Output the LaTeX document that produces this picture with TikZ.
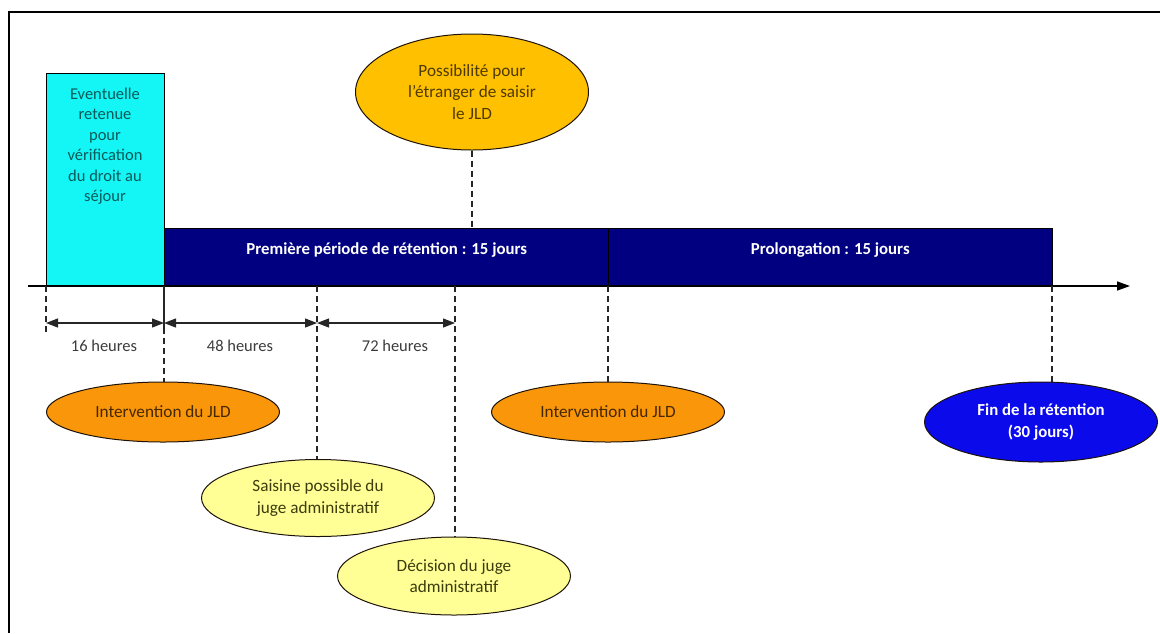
\documentclass[tikz,border=0pt]{standalone}
\usepackage{fontspec}
\setmainfont{Carlito}
\usetikzlibrary{shapes.geometric,arrows.meta}
\definecolor{cyanbox}{RGB}{20,245,245}
\definecolor{navybar}{RGB}{0,0,128}
\definecolor{goldfill}{RGB}{255,192,0}
\definecolor{orangefill}{RGB}{250,150,10}
\definecolor{paleyellow}{RGB}{255,255,150}
\definecolor{bluefill}{RGB}{10,10,235}
\definecolor{tealtext}{RGB}{10,90,90}
\definecolor{browntext}{RGB}{70,40,0}
\definecolor{olivetext}{RGB}{60,60,15}
\definecolor{goldtext}{RGB}{80,58,0}
\definecolor{graytext}{RGB}{60,60,60}
\tikzset{
  txt/.style={font=\fontsize{16.5}{21}\selectfont, align=center, inner sep=0pt},
  evt/.style={ellipse, draw=black!85!brown, line width=1pt, minimum width=233pt, inner sep=0pt, txt, font=\fontsize{17.2}{21.5}\selectfont},
  barbox/.style={draw=black, line width=0.6pt, fill=navybar, inner sep=0pt, minimum height=58pt, anchor=north west},
  bartext/.style={txt, text=white, font=\fontsize{16.8}{21}\selectfont\bfseries},
  guide/.style={dashed, dash pattern=on 6pt off 4pt, line width=1.3pt, black!85},
  dim/.style={line width=1.2pt, black!85, {Triangle[length=12pt,width=9pt]}-{Triangle[length=12pt,width=9pt]}},
  dimlabel/.style={txt, text=graytext},
}
\begin{document}
\begin{tikzpicture}[x=1pt,y=-1pt]
\useasboundingbox (0,0) rectangle (1160,633);
% frame
\draw[line width=1.6pt] (1160,12) -- (9,12) -- (9,633);
% cyan box
\node[draw=black, line width=1pt, fill=cyanbox, minimum width=118pt, minimum height=213pt, inner sep=0pt, anchor=north west] (retenue) at (46,73) {};
\node[txt, text=tealtext, font=\fontsize{16.5}{20.5}\selectfont] (retenuetxt) at (105,146) {Eventuelle\\retenue\\pour\\vérification\\du droit au\\séjour};
% bars
\node[barbox, minimum width=445pt] (bar1) at (164,228) {};
\node[barbox, minimum width=444pt] (bar2) at (608,228) {};
\node[bartext] (bar1txt) at ([yshift=-22pt]bar1.north) {Première période de rétention : 15 jours};
\node[bartext] (bar2txt) at ([yshift=-22pt]bar2.north) {Prolongation : 15 jours};
% axis
\coordinate (axstart) at (28,286);
\coordinate (axend) at (1130,286);
\draw[line width=1.5pt, -{Triangle[length=13pt,width=9pt]}] (axstart) -- (axend);
% points on axis
\coordinate (p0) at (46,286);
\coordinate (p1) at (164,286);
\coordinate (p2) at (317,286);
\coordinate (p3) at (455,286);
\coordinate (p4) at (608,286);
\coordinate (p5) at (1052,286);
\coordinate (p1s) at (164,328);
\coordinate (p0e) at (46,332);
% ellipses
\node[evt, fill=goldfill, minimum height=116pt, text=goldtext] (possib) at (472,92) {Possibilité pour\\l'étranger de saisir\\le JLD};
\node[evt, fill=orangefill, minimum height=60pt, text=browntext] (jld1) at (163,412) {Intervention du JLD};
\node[evt, fill=orangefill, minimum height=60pt, text=browntext] (jld2) at (608,412) {Intervention du JLD};
\node[evt, fill=paleyellow, minimum height=77pt, text=olivetext] (saisine) at (318,498) {Saisine possible du\\juge administratif};
\node[evt, fill=paleyellow, minimum height=78pt, text=olivetext] (decision) at (454,576) {Décision du juge\\administratif};
\node[evt, fill=bluefill, minimum height=80pt, text=white, font=\fontsize{16.8}{22}\selectfont\bfseries] (fin) at (1041,422) {Fin de la rétention\\(30 jours)};
% guides
\draw[guide] (possib.south) -- (possib.south |- bar1.north);
\draw[guide] (p0) -- (p0e);
\draw[line width=1.3pt, black!85] (p1) -- (p1s);
\draw[guide] (p1s) -- (p1s |- jld1.north);
\draw[guide] (p2) -- (p2 |- saisine.north);
\draw[guide] (p3) -- (p3 |- decision.north);
\draw[guide] (p4) -- (p4 |- jld2.north);
\draw[guide] (p5) -- (p5 |- fin.north);
% dimension arrows
\coordinate (d0) at (46,323);
\coordinate (d1) at (164,323);
\coordinate (d2) at (317,323);
\coordinate (d3) at (455,323);
\draw[dim] (d0) -- (d1);
\draw[dim] (d1) -- (d2);
\draw[dim] (d2) -- (d3);
\node[dimlabel] (h16) at (104,346) {16 heures};
\node[dimlabel] (h48) at (240,346) {48 heures};
\node[dimlabel] (h72) at (395,346) {72 heures};
\end{tikzpicture}
\end{document}
